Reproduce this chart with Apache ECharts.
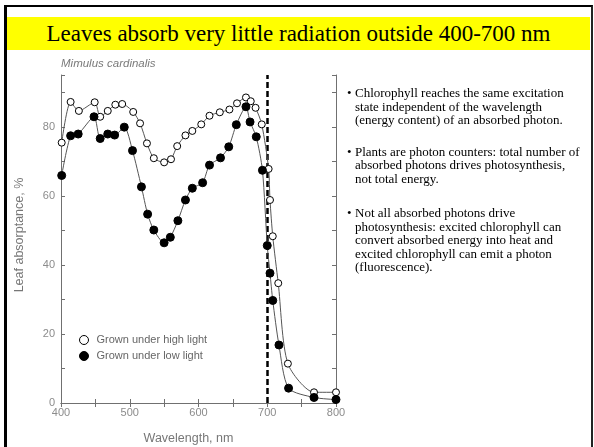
<!DOCTYPE html>
<html>
<head>
<meta charset="utf-8">
<script src="https://cdn.jsdelivr.net/npm/echarts@6/dist/echarts.min.js"></script>
<style>
  html, body { margin: 0; padding: 0; background: #fff; }
  body { width: 594px; height: 447px; position: relative; overflow: hidden; }
  #frame {
    position: absolute; left: 4px; top: 5px; width: 584px; height: 460px;
    border-left: 3px solid #000; border-top: 2px solid #000; border-right: 2px solid #222;
  }
  #title {
    position: absolute; left: 7px; top: 17px; width: 583px; height: 33px;
    background: #ffff00; color: #000;
    font-family: "Liberation Serif", "DejaVu Serif", serif; font-size: 23px;
    line-height: 33px; text-align: center; white-space: nowrap; z-index: 2;
  }
  #chart { position: absolute; left: 0; top: 0; width: 594px; height: 447px; z-index: 1; }
  .note {
    position: absolute; left: 347px; width: 245px; z-index: 2;
    font-family: "Liberation Serif", "DejaVu Serif", serif; font-size: 13px;
    line-height: 13.6px; color: #000; white-space: nowrap;
  }
  .note .b { position: absolute; left: 0; top: 0; }
  .note .t { margin-left: 8px; }
  #subtitle {
    position: absolute; left: 61px; top: 57px; z-index: 2;
    font-family: "Liberation Sans", Arial, sans-serif; font-style: italic;
    font-size: 11.5px; color: #7a7a7a; white-space: nowrap;
  }
</style>
</head>
<body>
<div id="frame"></div>
<div id="title">Leaves absorb very little radiation outside 400-700 nm</div>
<div id="chart"></div>
<div id="subtitle">Mimulus cardinalis</div>
<div class="note" style="top:86px"><span class="b">•</span><div class="t">Chlorophyll reaches the same excitation<br>state independent of the wavelength<br>(energy content) of an absorbed photon.</div></div>
<div class="note" style="top:144.5px"><span class="b">•</span><div class="t">Plants are photon counters: total number of<br>absorbed photons drives photosynthesis,<br>not total energy.</div></div>
<div class="note" style="top:206px"><span class="b">•</span><div class="t">Not all absorbed photons drive<br>photosynthesis: excited chlorophyll can<br>convert absorbed energy into heat and<br>excited chlorophyll can emit a photon<br>(fluorescence).</div></div>
<script>
// Leaf absorptance spectra of Mimulus cardinalis (wavelength in nm, absorptance in %)
const wavelengthHigh = [401, 414, 426, 449, 457, 468, 479, 489, 505, 515, 525, 535, 550, 560, 569, 581, 591, 604, 616, 631, 645, 656, 669, 676, 683, 692, 702, 704, 708, 716, 730, 768, 800];
const absorptanceHigh = [75.4, 87.2, 84.6, 87.1, 82.9, 84.6, 86.4, 86.6, 84.3, 81.0, 75.2, 70.9, 69.7, 70.6, 74.4, 77.5, 78.8, 80.7, 83.2, 84.2, 85.0, 86.8, 88.5, 87.4, 85.5, 80.7, 67.8, 58.8, 48.3, 34.7, 11.4, 3.1, 3.1];

const wavelengthLow = [401, 414, 425, 448, 457, 468, 478, 492, 504, 517, 526, 535, 550, 559, 570, 581, 591, 606, 616, 632, 644, 655, 669, 675, 684, 693, 700, 704, 708, 717, 731, 768, 800];
const absorptanceLow = [65.9, 77.4, 77.9, 82.9, 76.6, 77.9, 77.6, 79.9, 73.1, 62.6, 54.7, 50.1, 46.4, 48.0, 52.8, 58.8, 62.2, 63.8, 68.9, 71.0, 74.2, 80.6, 85.8, 81.4, 77.1, 67.4, 45.6, 37.6, 29.7, 16.8, 4.3, 1.6, 1.0];

const seriesNames = ['Grown under high light', 'Grown under low light'];
const xTickLabels = [400, 500, 600, 700, 800];
const yTickLabels = [0, 20, 40, 60, 80];
const visibleLimit = 700;

const pairs = (xs, ys) => xs.map((x, i) => [x, ys[i]]);

const axisGray = '#707070';
const labelGray = '#8c8c8c';

const chart = echarts.init(document.getElementById('chart'), null, { renderer: 'canvas' });

const xCommon = {
  type: 'value', min: 400, max: 800, interval: 50,
  axisLine: { lineStyle: { color: axisGray, width: 1 } },
  axisTick: { inside: true, length: 4, lineStyle: { color: axisGray } },
  splitLine: { show: false }
};
const yCommon = {
  type: 'value', min: 0, max: 95, interval: 10,
  axisLine: { show: true, lineStyle: { color: axisGray, width: 1 } },
  axisTick: { show: true, inside: true, length: 4, lineStyle: { color: axisGray } },
  splitLine: { show: false }
};

chart.setOption({
  animation: false,
  textStyle: { fontFamily: 'Liberation Sans' },
  grid: { left: 61, top: 75, right: 258, bottom: 44, outerBoundsMode: 'none', containLabel: false },
  xAxis: [
    Object.assign({}, xCommon, {
      position: 'bottom',
      axisLabel: {
        color: labelGray, fontSize: 11, margin: 4,
        formatter: v => (xTickLabels.includes(v) ? String(v) : '')
      },
      name: 'Wavelength, nm', nameLocation: 'middle', nameGap: 29,
      nameTextStyle: { color: '#777', fontSize: 12.5, padding: [0, 20, 0, 0] }
    }),
    Object.assign({}, xCommon, { position: 'top', axisLabel: { show: false } })
  ],
  yAxis: [
    Object.assign({}, yCommon, {
      position: 'left',
      axisLabel: {
        color: labelGray, fontSize: 11, margin: 6,
        formatter: v => (yTickLabels.includes(v) ? String(v) : '')
      },
      name: 'Leaf absorptance, %', nameLocation: 'middle', nameGap: 35, nameRotate: 90,
      nameTextStyle: { color: '#777', fontSize: 12.5, padding: [0, 0, 0, 8] }
    }),
    Object.assign({}, yCommon, { position: 'right', axisLabel: { show: false } })
  ],
  legend: {
    orient: 'vertical', left: 79, top: 333, padding: 0,
    itemWidth: 9, itemHeight: 9, itemGap: 2,
    textStyle: { color: '#666', fontSize: 11, lineHeight: 14, padding: [0, 0, 0, 3] },
    data: [
      { name: seriesNames[0], icon: 'circle', itemStyle: { color: '#fff', borderColor: '#000', borderWidth: 1 } },
      { name: seriesNames[1], icon: 'circle', itemStyle: { color: '#000', borderColor: '#000', borderWidth: 1 } }
    ]
  },
  series: [
    {
      name: seriesNames[0], type: 'line', xAxisIndex: 0, yAxisIndex: 0,
      data: pairs(wavelengthHigh, absorptanceHigh),
      smooth: 0.25, symbol: 'circle', symbolSize: 7,
      lineStyle: { color: '#555', width: 1 },
      itemStyle: { color: '#fff', borderColor: '#000', borderWidth: 1 },
      z: 2
    },
    {
      name: seriesNames[1], type: 'line', xAxisIndex: 0, yAxisIndex: 0,
      data: pairs(wavelengthLow, absorptanceLow),
      smooth: 0.25, symbol: 'circle', symbolSize: 8,
      lineStyle: { color: '#555', width: 1 },
      itemStyle: { color: '#000', borderColor: '#000', borderWidth: 1 },
      z: 3,
      markLine: {
        silent: true, symbol: ['none', 'none'], label: { show: false },
        lineStyle: { color: '#000', width: 2.5, type: [6, 3] },
        data: [{ xAxis: visibleLimit }],
        z: 1
      }
    }
  ]
});
</script>
</body>
</html>
